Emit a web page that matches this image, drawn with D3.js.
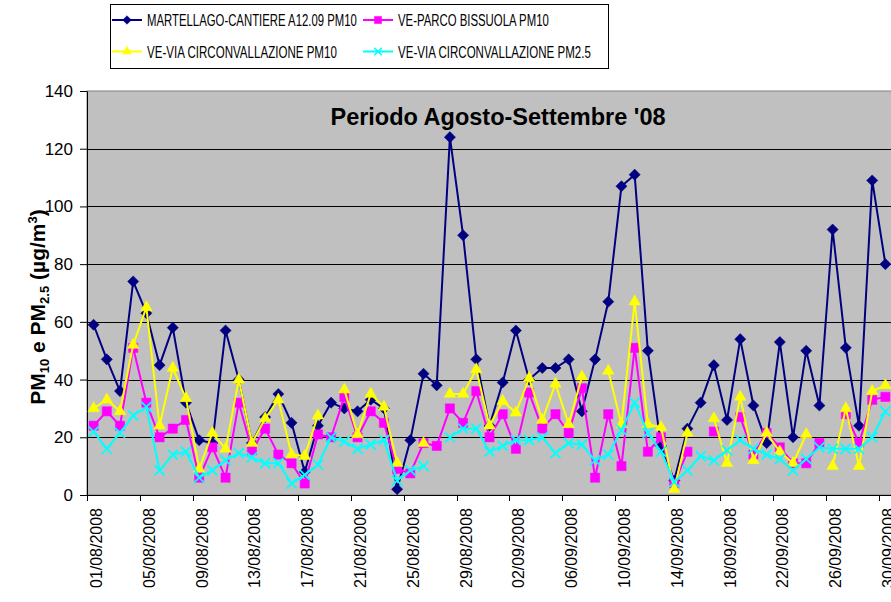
<!DOCTYPE html>
<html>
<head>
<meta charset="utf-8">
<script src="https://cdn.jsdelivr.net/npm/d3@7"></script>
<style>
  body { margin: 0; background: #ffffff; }
  svg text { font-family: Arial, "Liberation Sans", sans-serif; fill: #000000; }
</style>
</head>
<body>
<div id="chart"></div>
<script>
const dates = [
    "01/08/2008", "02/08/2008", "03/08/2008", "04/08/2008", "05/08/2008", "06/08/2008", "07/08/2008", "08/08/2008",
    "09/08/2008", "10/08/2008", "11/08/2008", "12/08/2008", "13/08/2008", "14/08/2008", "15/08/2008", "16/08/2008",
    "17/08/2008", "18/08/2008", "19/08/2008", "20/08/2008", "21/08/2008", "22/08/2008", "23/08/2008", "24/08/2008",
    "25/08/2008", "26/08/2008", "27/08/2008", "28/08/2008", "29/08/2008", "30/08/2008", "31/08/2008",
    "01/09/2008", "02/09/2008", "03/09/2008", "04/09/2008", "05/09/2008", "06/09/2008", "07/09/2008", "08/09/2008",
    "09/09/2008", "10/09/2008", "11/09/2008", "12/09/2008", "13/09/2008", "14/09/2008", "15/09/2008", "16/09/2008",
    "17/09/2008", "18/09/2008", "19/09/2008", "20/09/2008", "21/09/2008", "22/09/2008", "23/09/2008", "24/09/2008",
    "25/09/2008", "26/09/2008", "27/09/2008", "28/09/2008", "29/09/2008", "30/09/2008"
];

// µg/m3, null = no data that day
const martellago = [
    59, 47, 36, 74, 63, 45, 58, 32, 19, 18,
    57, 40, 18, 27, 35, 25, 8, 24, 32, 30,
    29, 33, 30, 2, 19, 42, 38, 124, 90, 47,
    24, 39, 57, 40, 44, 44, 47, 29, 47, 67,
    107, 111, 50, 17, 5, 23, 32, 45, 26, 54,
    31, 18, 53, 20, 50, 31, 92, 51, 24, 109,
    80
];
const parcoBissuola = [
    24, 29, 24, 51, 32, 20, 23, 26, 6, 16.5,
    6, 32, 15.5, 23, 14, 11, 4, 21, 20, 34,
    20, 29, 25, 9, 7.5, 18, 17, 30, 25, 36,
    20, 28, 16, 35.5, 23, 28, 21.5, 37, 6, 28,
    10, 51, 15, 20, 4, 15, null, 22, null, 27,
    14, 21.5, 16.5, 11, 11, 18, null, 28, 18, 33,
    34
];
const circonvallazionePM10 = [
    30, 33, 29, 52, 65, 24, 44, 33.5, 9, 21.5,
    16, 40, 18, 26.5, 33, 14, 13.5, 27.5, null, 36.5,
    21, 35, 30.5, 11, null, 18, null, 35, 35, 43.5,
    24, 32.5, 28.5, 40.5, 26, 38.5, 24.5, 41, null, 43,
    24.5, 67, 24.5, 23.5, 2, 21.5, null, 26.5, 11, 34,
    12, 21.5, 15, 11, 21, null, 10, 30, 10, 36,
    38
];
const circonvallazionePM25 = [
    22, 16, 21.5, 27.5, 30.5, 8.5, 14, 15, 6, 8.5,
    12, 14.5, 13, 11, 11, 4, 7, 10.5, 20, 18.5,
    16, 17.5, 19, 5, 8.5, 10, null, 20, 23, 23,
    15, 17, 19, 19, 20, 14.5, 18, 17.5, 12, 14,
    22.5, 32, 21.5, 15, 4.5, 8.5, 13.5, 12, 15.5, 19,
    16, 14, 12.5, 8.5, 12.5, 16.5, 16, 16, 16, 20,
    29
];

const seriesNames = [
    "MARTELLAGO-CANTIERE A12.09 PM10",
    "VE-PARCO BISSUOLA PM10",
    "VE-VIA CIRCONVALLAZIONE PM10",
    "VE-VIA CIRCONVALLAZIONE PM2.5"
];
const yTicks = [0, 20, 40, 60, 80, 100, 120, 140];
const xTickLabels = dates.filter((d, i) => i % 4 === 0);
const chartTitle = "Periodo Agosto-Settembre '08";

function drawChart() {
    const width = 891;
    const height = 602;
    const plot = { left: 87, right: 892, top: 91, bottom: 495 };

    const svg = d3.select("#chart")
        .append("svg")
        .attr("width", width)
        .attr("height", height)
        .style("display", "block")
        .style("background", "#ffffff");

    const x = d3.scaleBand()
        .domain(dates)
        .range([plot.left, plot.right])
        .padding(0);
    const bw = x.bandwidth();
    const cx = d => x(d) + bw / 2;

    const y = d3.scaleLinear()
        .domain([0, 140])
        .range([plot.bottom, plot.top]);

    // plot area
    svg.append("rect")
        .attr("x", plot.left)
        .attr("y", plot.top)
        .attr("width", plot.right - plot.left)
        .attr("height", plot.bottom - plot.top)
        .attr("fill", "#c0c0c0")
        .attr("stroke", "#808080")
        .attr("stroke-width", 1);

    svg.append("g")
        .selectAll("line")
        .data(yTicks.filter(v => v > 0 && v < 140))
        .enter().append("line")
        .attr("x1", plot.left)
        .attr("x2", plot.right)
        .attr("y1", d => Math.round(y(d)) + 0.5)
        .attr("y2", d => Math.round(y(d)) + 0.5)
        .attr("stroke", "#000000")
        .attr("stroke-width", 1);

    // y axis
    const yAxis = d3.axisLeft(y)
        .tickValues(yTicks)
        .tickSize(7)
        .tickSizeOuter(0)
        .tickPadding(7);

    const yAxisG = svg.append("g")
        .attr("transform", `translate(${plot.left},0)`)
        .call(yAxis);
    yAxisG.select(".domain").attr("stroke", "#000000");
    yAxisG.selectAll(".tick line").attr("stroke", "#000000");
    yAxisG.selectAll("text")
        .style("font-size", "17px")
        .style("font-family", "Arial, 'Liberation Sans', sans-serif")
        .attr("fill", "#000000");

    // x axis: labels centred on categories, ticks between categories
    const xAxis = d3.axisBottom(x)
        .tickValues(xTickLabels)
        .tickSize(0)
        .tickSizeOuter(0);

    const xAxisG = svg.append("g")
        .attr("transform", `translate(0,${plot.bottom})`)
        .call(xAxis);
    xAxisG.select(".domain").remove();
    xAxisG.selectAll("text")
        .attr("transform", "rotate(-90)")
        .attr("x", -13)
        .attr("y", 0)
        .attr("dy", "0.5em")
        .attr("textLength", 80)
        .attr("lengthAdjust", "spacingAndGlyphs")
        .style("text-anchor", "end")
        .style("font-size", "17px")
        .style("font-family", "Arial, 'Liberation Sans', sans-serif")
        .attr("fill", "#000000");

    svg.append("line")
        .attr("x1", plot.left)
        .attr("x2", plot.right)
        .attr("y1", plot.bottom + 0.5)
        .attr("y2", plot.bottom + 0.5)
        .attr("stroke", "#000000");

    svg.append("g")
        .selectAll("line")
        .data(xTickLabels)
        .enter().append("line")
        .attr("x1", d => Math.round(x(d)) + 0.5)
        .attr("x2", d => Math.round(x(d)) + 0.5)
        .attr("y1", plot.bottom)
        .attr("y2", plot.bottom + 6)
        .attr("stroke", "#000000");

    // y axis title with sub/superscripts
    const yTitle = svg.append("text")
        .attr("transform", `translate(45,${(plot.top + plot.bottom) / 2 + 14}) rotate(-90)`)
        .attr("text-anchor", "middle")
        .style("font-size", "21px")
        .style("font-weight", "bold");
    yTitle.append("tspan").text("PM");
    yTitle.append("tspan").attr("dy", 4).style("font-size", "13px").text("10");
    yTitle.append("tspan").attr("dy", -4).text(" e PM");
    yTitle.append("tspan").attr("dy", 4).style("font-size", "13px").text("2.5");
    yTitle.append("tspan").attr("dy", -4).text(" (µg/m");
    yTitle.append("tspan").attr("dy", -8).style("font-size", "13px").text("3");
    yTitle.append("tspan").attr("dy", 8).text(")");

    svg.append("text")
        .attr("x", 498)
        .attr("y", 125)
        .attr("text-anchor", "middle")
        .style("font-size", "23.5px")
        .style("font-weight", "bold")
        .text(chartTitle);

    const series = [
        { name: seriesNames[0], values: martellago, color: "#000080", symbol: d3.symbolSquare, size: 62, rotate: 45, fill: true },
        { name: seriesNames[1], values: parcoBissuola, color: "#ff00ff", symbol: d3.symbolSquare, size: 85, rotate: 0, fill: true },
        { name: seriesNames[2], values: circonvallazionePM10, color: "#ffff00", symbol: d3.symbolTriangle, size: 58, rotate: 0, fill: true },
        { name: seriesNames[3], values: circonvallazionePM25, color: "#00ffff", symbol: d3.symbolX, size: 67, rotate: 0, fill: false }
    ];

    const line = d3.line()
        .defined(d => d.value !== null)
        .x(d => cx(d.date))
        .y(d => y(d.value));

    series.forEach(s => {
        const pts = dates.map((d, i) => ({ date: d, value: s.values[i] }));
        const g = svg.append("g");

        g.append("path")
            .datum(pts)
            .attr("fill", "none")
            .attr("stroke", s.color)
            .attr("stroke-width", 2)
            .attr("stroke-linejoin", "round")
            .attr("d", line);

        const sym = d3.symbol().type(s.symbol).size(s.size);
        g.selectAll(".marker")
            .data(pts.filter(p => p.value !== null))
            .enter().append("path")
            .attr("class", "marker")
            .attr("transform", p => `translate(${cx(p.date)},${y(p.value)}) rotate(${s.rotate})`)
            .attr("d", sym)
            .attr("fill", s.fill ? s.color : "none")
            .attr("stroke", s.color)
            .attr("stroke-width", s.fill ? 0.5 : 1.8);
    });

    // legend
    const legend = svg.append("g");
    legend.append("rect")
        .attr("x", 110.5)
        .attr("y", 4.5)
        .attr("width", 498)
        .attr("height", 64)
        .attr("fill", "#ffffff")
        .attr("stroke", "#000000");

    const legendPos = [
        { x: 112, y: 20, w: 210 },
        { x: 363, y: 20, w: 151 },
        { x: 112, y: 51.5, w: 190 },
        { x: 363, y: 51.5, w: 193 }
    ];

    series.forEach((s, i) => {
        const p = legendPos[i];
        legend.append("line")
            .attr("x1", p.x)
            .attr("x2", p.x + 30)
            .attr("y1", p.y)
            .attr("y2", p.y)
            .attr("stroke", s.color)
            .attr("stroke-width", 2);
        legend.append("path")
            .attr("transform", `translate(${p.x + 15},${p.y}) rotate(${s.rotate})`)
            .attr("d", d3.symbol().type(s.symbol).size(s.size * 0.6))
            .attr("fill", s.fill ? s.color : "none")
            .attr("stroke", s.color)
            .attr("stroke-width", s.fill ? 0.5 : 1.5);
        // the legend font is condensed: squeeze each label to its width
        const label = legend.append("text")
            .attr("x", 0)
            .attr("y", 0)
            .style("font-size", "16.5px")
            .text(s.name);
        const natural = label.node().getComputedTextLength();
        label.attr("transform", `translate(${p.x + 35},${p.y + 6}) scale(${p.w / natural},1)`);
    });
}

drawChart();
</script>
</body>
</html>
